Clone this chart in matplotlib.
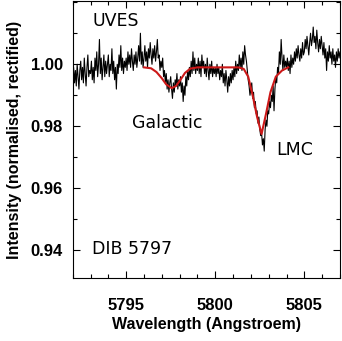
import numpy as np
import matplotlib
matplotlib.use('Agg')
import matplotlib.pyplot as plt
from matplotlib.ticker import MultipleLocator, FixedLocator

# 光谱数据 (UVES, DIB 5797), 每 0.05 埃一个点, 5792 - 5807
flux = [
    # 5792
    0.996, 0.999, 0.994, 0.998, 0.993, 1.000, 0.996, 0.992, 0.998, 1.001,
    0.995, 0.999, 0.994, 1.002, 0.997, 0.993, 0.999, 1.003, 0.996, 0.998,
    # 5793
    0.997, 1.001, 0.995, 0.999, 0.994, 1.002, 0.998, 1.004, 0.996, 1.000,
    1.008, 0.997, 1.002, 0.995, 0.999, 1.003, 0.996, 1.001, 0.997, 1.000,
    # 5794
    1.003, 0.996, 1.000, 0.998, 1.005, 0.997, 1.001, 0.995, 0.999, 0.992,
    1.000, 0.997, 1.003, 0.999, 1.006, 0.998, 1.002, 0.997, 1.001, 0.999,
    # 5795
    1.002, 0.998, 1.004, 1.000, 1.003, 0.999, 1.005, 1.001, 0.998, 1.003,
    1.000, 1.004, 0.999, 1.002, 1.006, 1.001, 1.010, 1.000, 1.004, 0.999,
    # 5796
    1.002, 1.006, 1.001, 1.004, 0.999, 1.005, 1.002, 1.007, 1.003, 1.000,
    1.005, 1.002, 1.006, 1.001, 1.004, 1.008, 1.002, 1.003, 0.998, 1.001,
    # 5797
    0.999, 1.002, 0.996, 0.998, 0.994, 0.997, 0.992, 0.995, 0.991, 0.994,
    0.996, 0.992, 0.989, 0.994, 0.991, 0.995, 0.993, 0.997, 0.992, 0.995,
    # 5798
    0.993, 0.996, 0.991, 0.994, 0.988, 0.993, 0.990, 0.996, 0.993, 0.998,
    0.995, 0.999, 0.996, 1.001, 0.997, 1.004, 0.998, 1.002, 0.997, 1.000,
    # 5799
    0.998, 1.002, 0.997, 1.001, 0.996, 1.003, 0.999, 1.001, 0.997, 1.000,
    0.996, 1.002, 0.998, 0.995, 1.000, 0.997, 1.001, 0.996, 0.999, 0.997,
    # 5800
    0.999, 0.996, 1.000, 0.997, 0.999, 0.995, 0.998, 0.996, 1.000, 0.994,
    0.997, 0.993, 0.998, 0.995, 0.991, 0.996, 0.993, 0.997, 0.994, 0.998,
    # 5801
    0.995, 0.999, 0.996, 1.001, 0.997, 1.000, 0.998, 1.003, 0.999, 1.002,
    0.998, 1.004, 1.000, 1.006, 1.003, 1.001, 0.998, 0.995, 0.993, 0.990,
    # 5802
    0.992, 0.994, 0.989, 0.991, 0.986, 0.988, 0.984, 0.985, 0.981, 0.983,
    0.979, 0.977, 0.978, 0.974, 0.976, 0.972, 0.979, 0.982, 0.980, 0.985,
    # 5803
    0.984, 0.988, 0.986, 0.990, 0.988, 0.993, 0.985, 0.992, 0.996, 0.994,
    0.999, 0.997, 1.004, 1.000, 1.008, 1.002, 0.998, 1.003, 0.999, 1.001,
    # 5804
    0.999, 1.002, 0.998, 1.001, 0.997, 1.003, 0.999, 1.002, 1.000, 1.004,
    1.001, 1.005, 1.002, 1.006, 1.003, 1.001, 1.005, 1.002, 1.007, 1.003,
    # 5805
    1.004, 1.008, 1.005, 1.009, 1.006, 1.003, 1.007, 1.010, 1.006, 1.008,
    1.012, 1.007, 1.009, 1.005, 1.011, 1.007, 1.004, 1.008, 1.005, 1.009,
    # 5806
    1.006, 1.003, 1.007, 1.002, 1.005, 0.998, 1.004, 1.001, 1.006, 1.002,
    1.004, 1.000, 1.005, 1.001, 1.003, 0.999, 1.004, 1.001, 1.005, 1.002,
    # 5807
    1.004,
]
wave = np.linspace(5792.0, 5807.0, len(flux))

# 拟合曲线 (红线)
fit_wave = [5796.0, 5796.4, 5796.7, 5797.0, 5797.25, 5797.55, 5797.8, 5798.05,
            5798.3, 5798.6, 5799.0, 5801.3, 5801.6, 5801.85, 5802.1, 5802.35,
            5802.6, 5802.85, 5803.1, 5803.4, 5803.75, 5804.1]
fit_flux = [0.999, 0.9987, 0.9975, 0.9955, 0.9935, 0.9923, 0.9930, 0.9950,
            0.9972, 0.9986, 0.999, 0.999, 0.9985, 0.996, 0.990, 0.983,
            0.9775, 0.984, 0.991, 0.996, 0.998, 0.999]

y_ticks = [0.94, 0.96, 0.98, 1.00]

fig = plt.figure(figsize=(3.42, 3.41), dpi=100)
ax = fig.add_axes([0.2126, 0.1839, 0.7814, 0.8141])

ax.plot(wave, flux, color='black', linewidth=0.8)
ax.plot(fit_wave, fit_flux, color='#cc1818', linewidth=1.5)

ax.set_xlim(5792, 5807)
ax.set_ylim(0.931, 1.0205)

ax.xaxis.set_major_locator(MultipleLocator(5))
ax.xaxis.set_minor_locator(MultipleLocator(1))
ax.yaxis.set_major_locator(FixedLocator(y_ticks))
ax.yaxis.set_minor_locator(MultipleLocator(0.01))
ax.yaxis.set_major_formatter(plt.FormatStrFormatter('%.2f'))

ax.tick_params(which='both', direction='in', top=True, right=True, width=0.8)
ax.tick_params(which='major', length=5)
ax.tick_params(which='minor', length=3)
ax.tick_params(axis='x', pad=14)
ax.tick_params(axis='y', pad=7)
for lab in ax.get_xticklabels() + ax.get_yticklabels():
    lab.set_family('Liberation Sans')
    lab.set_fontweight('bold')
    lab.set_fontsize(12)

ax.set_xlabel('Wavelength (Angstroem)', family='Liberation Sans', fontsize=11.5,
              fontweight='bold', labelpad=3)
ax.set_ylabel('Intensity (normalised, rectified)', family='Liberation Sans',
              fontsize=11.5, fontweight='bold', labelpad=6)

# 标注文字
ax.text(5793.1, 1.0141, 'UVES', fontsize=12.5, va='center')
ax.text(5795.35, 0.9812, 'Galactic', fontsize=12.5, va='center')
ax.text(5803.44, 0.9722, 'LMC', fontsize=12.5, va='center')
ax.text(5793.1, 0.9405, 'DIB 5797', fontsize=12.5, va='center')

fig.savefig('out.png', dpi=100)
